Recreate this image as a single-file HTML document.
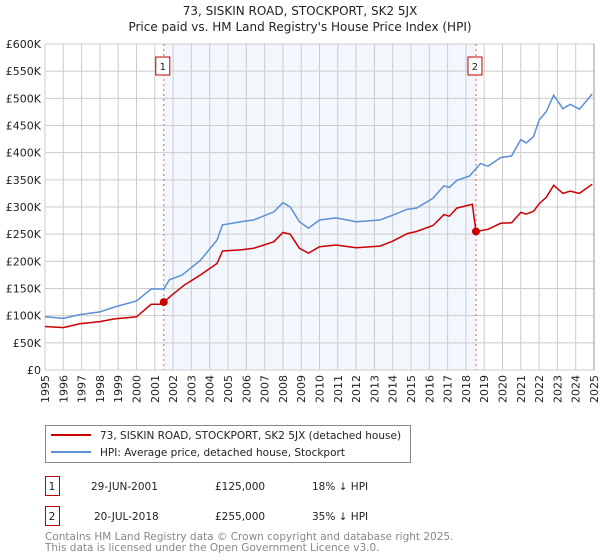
<!DOCTYPE html>
<html><head><meta charset="utf-8"><style>
body{margin:0;background:#fff;font-family:"DejaVu Sans","Liberation Sans",sans-serif;}
#wrap{position:relative;width:600px;height:560px;overflow:hidden;}
svg text{font-family:"DejaVu Sans","Liberation Sans",sans-serif;}
</style></head><body>
<div id="wrap">
<svg id="chart" width="600" height="560"></svg>
</div>
<script>
const yearTicks=[1995,1996,1997,1998,1999,2000,2001,2002,2003,2004,2005,2006,2007,2008,2009,2010,2011,2012,2013,2014,2015,2016,2017,2018,2019,2020,2021,2022,2023,2024,2025];
const valueTicks=[0,50000,100000,150000,200000,250000,300000,350000,400000,450000,500000,550000,600000];
const valueTickLabels=["£0","£50K","£100K","£150K","£200K","£250K","£300K","£350K","£400K","£450K","£500K","£550K","£600K"];
const hpiYears=[1995.0,1996.0,1996.9,1998.0,1998.8,2000.0,2000.8,2001.5,2001.8,2002.5,2003.5,2004.4,2004.7,2005.7,2006.4,2007.5,2008.0,2008.4,2008.9,2009.4,2010.0,2010.9,2012.0,2013.3,2014.0,2014.8,2015.3,2016.2,2016.8,2017.1,2017.5,2018.2,2018.8,2019.2,2019.9,2020.5,2021.0,2021.3,2021.7,2022.0,2022.4,2022.8,2023.3,2023.7,2024.2,2024.9];
const hpiValues=[98000,95000,102000,107000,116000,127000,149000,149000,166000,175000,202000,239000,267000,273000,276000,291000,308000,300000,273000,261000,276000,280000,273000,276000,285000,296000,298000,316000,339000,336000,349000,357000,380000,375000,391000,394000,424000,418000,430000,460000,476000,506000,481000,489000,480000,508000];
const priceYears=[1995.0,1996.0,1996.9,1998.0,1998.8,2000.0,2000.8,2001.4,2001.5,2001.9,2002.6,2003.5,2004.4,2004.7,2005.7,2006.4,2007.5,2008.0,2008.4,2008.9,2009.4,2010.0,2010.9,2012.0,2013.3,2014.0,2014.8,2015.3,2016.2,2016.8,2017.1,2017.5,2018.35,2018.55,2019.2,2019.9,2020.5,2021.0,2021.3,2021.7,2022.0,2022.4,2022.8,2023.3,2023.7,2024.2,2024.9];
const priceValues=[80000,78000,85000,89000,94000,98000,121000,121000,125000,137000,156000,175000,196000,219000,221000,224000,236000,253000,250000,224000,215000,227000,230000,225000,228000,237000,251000,255000,266000,286000,283000,298000,305000,255000,259000,270000,271000,290000,287000,292000,306000,318000,340000,325000,329000,325000,342000];
const saleYears=[2001.49,2018.55];
const saleValues=[125000,255000];
const saleLabels=["1","2"];

const NS="http://www.w3.org/2000/svg";
const svg=document.getElementById('chart');
const L=45,R=594,T=44,B=370;
const xs=y=>L+(y-1995)/30*(R-L);
const ys=v=>B-v/600000*(B-T);
function mk(tag,attrs,parent){const e=document.createElementNS(NS,tag);for(const k in attrs)e.setAttribute(k,attrs[k]);(parent||svg).appendChild(e);return e;}

let t=mk('text',{x:300,y:15,'text-anchor':'middle','font-size':12,fill:'#222'});t.textContent="73, SISKIN ROAD, STOCKPORT, SK2 5JX";


t=mk('text',{x:300,y:31,'text-anchor':'middle','font-size':12,fill:'#222'});t.textContent="Price paid vs. HM Land Registry's House Price Index (HPI)";



let sh=mk('rect',{x:xs(saleYears[0]),y:T,width:xs(saleYears[1])-xs(saleYears[0]),height:B-T,fill:'#f2f6fd'});



yearTicks.forEach(yr=>{
  const g=mk('line',{x1:xs(yr),x2:xs(yr),y1:T,y2:B,stroke:'#cccccc','stroke-width':1});
  
  
  const lx=xs(yr)+4, ly=375;
  const l=mk('text',{x:lx,y:ly,'text-anchor':'end','font-size':11,fill:'#222',transform:`rotate(-90 ${lx} ${ly})`});
  l.textContent=yr;
  
  
});
valueTicks.forEach((v,i)=>{
  const g=mk('line',{x1:L,x2:R,y1:ys(v),y2:ys(v),stroke:'#cccccc','stroke-width':1});
  
  
  const l=mk('text',{x:L-4,y:ys(v)+4,'text-anchor':'end','font-size':11,fill:'#222'});
  l.textContent=valueTickLabels[i];
  
  
});
let ax=mk('line',{x1:R,x2:R,y1:T,y2:B,stroke:'#999','stroke-width':1});



saleYears.forEach((yr,i)=>{
  const v=mk('line',{x1:xs(yr),x2:xs(yr),y1:T,y2:B,stroke:'#e06060','stroke-width':1,'stroke-dasharray':'2,3'});
  
  
  const bx=mk('rect',{x:xs(yr)-8,y:57,width:14,height:18,fill:'#fff',stroke:'#c00000','stroke-width':1});
  
  
  const tx=mk('text',{x:xs(yr)-1,y:70,'text-anchor':'middle','font-size':10,fill:'#222'});
  tx.textContent=saleLabels[i];
  
  
});

function pathOf(xsArr,vals){return xsArr.map((y,i)=>(i?'L':'M')+xs(y).toFixed(1)+','+ys(vals[i]).toFixed(1)).join('');}
let hp=mk('path',{d:pathOf(hpiYears,hpiValues),fill:'none',stroke:'#5b8fd6','stroke-width':1.5});


let pp=mk('path',{d:pathOf(priceYears,priceValues),fill:'none',stroke:'#cc0000','stroke-width':1.5});


saleYears.forEach((yr,i)=>{
  const c=mk('circle',{cx:xs(yr),cy:ys(saleValues[i]),r:4,fill:'#cc0000'});
  
  
});

let lg=mk('rect',{x:45.5,y:425.5,width:365,height:37,fill:'#fff',stroke:'#888','stroke-width':1});


let l1=mk('line',{x1:51,x2:91,y1:435,y2:435,stroke:'#cc0000','stroke-width':2});


let l2=mk('line',{x1:51,x2:91,y1:452,y2:452,stroke:'#5b8fd6','stroke-width':2});


t=mk('text',{x:100,y:439,'font-size':10.5,fill:'#222'});t.textContent="73, SISKIN ROAD, STOCKPORT, SK2 5JX (detached house)";


t=mk('text',{x:100,y:456,'font-size':10.5,fill:'#222'});t.textContent="HPI: Average price, detached house, Stockport";



const rows=[["1","29-JUN-2001","£125,000","18% ↓ HPI",476],["2","20-JUL-2018","£255,000","35% ↓ HPI",506]];
rows.forEach(r=>{
  const b=mk('rect',{x:45.5,y:r[4]+0.5,width:14,height:19,fill:'#fff',stroke:'#c00000','stroke-width':1});
  
  
  const cols=[[52,r[0],'middle'],[r[0]==="1"?91:94,r[1],'start'],[215,r[2],'start'],[312,r[3],'start']];
  cols.forEach(c=>{
    const e=mk('text',{x:c[0],y:r[4]+14,'font-size':10.5,fill:'#222','text-anchor':c[2]});
    e.textContent=c[1];
    
    
  });
});
t=mk('text',{x:45,y:540,'font-size':10.5,fill:'#888'});t.textContent="Contains HM Land Registry data © Crown copyright and database right 2025.";


t=mk('text',{x:45,y:551,'font-size':10.5,fill:'#888'});t.textContent="This data is licensed under the Open Government Licence v3.0.";


</script>
</body></html>
